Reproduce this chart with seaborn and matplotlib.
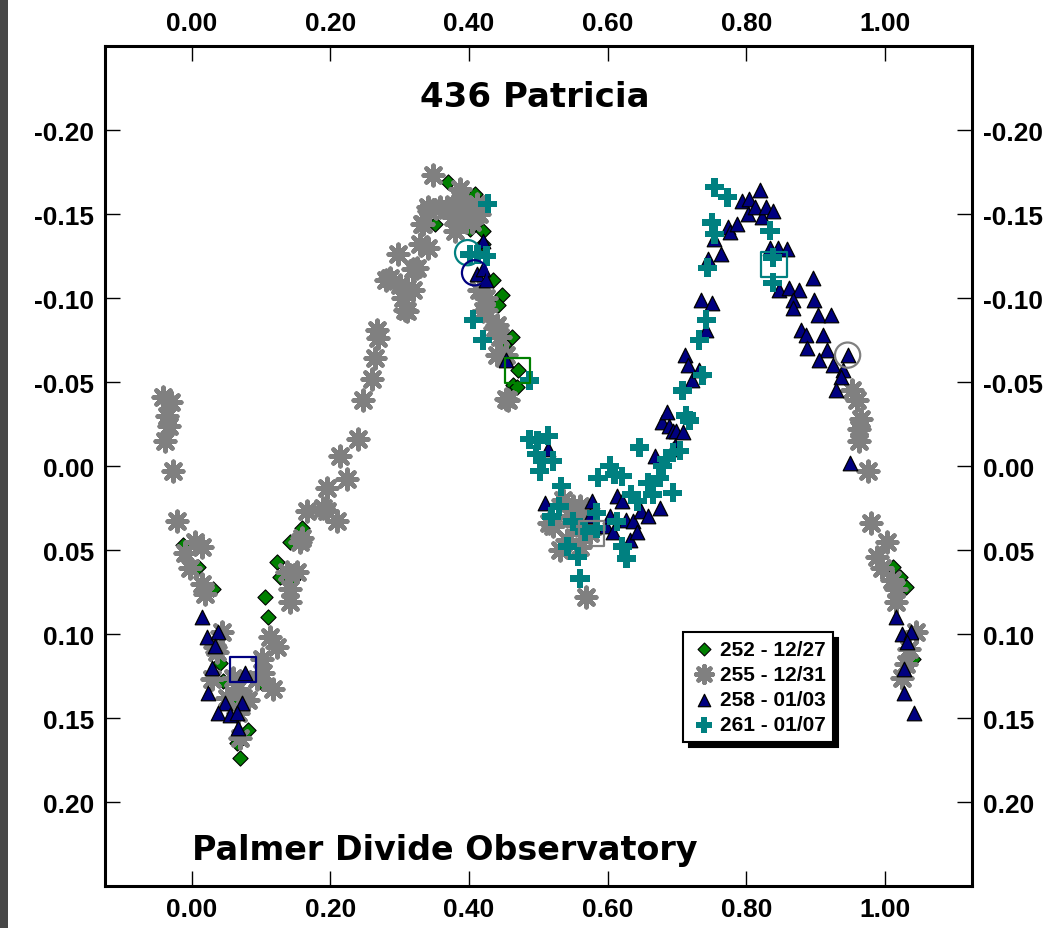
import numpy as np
import pandas as pd
import matplotlib
matplotlib.use("Agg")
import matplotlib.pyplot as plt
import seaborn as sns
from matplotlib.patches import Rectangle

# ---- data (phase, magnitude) ----
s252_x = [-0.012, 0.009, 0.031, 0.041, 0.045, 0.060, 0.065, 0.070, 0.081, 0.101, 0.106, 0.110,
          0.123, 0.127, 0.142, 0.146, 0.159,
          0.351, 0.370, 0.408, 0.401, 0.420, 0.420, 0.435, 0.447, 0.442, 0.462, 0.451, 0.470,
          0.463, 0.469,
          1.011, 1.021, 1.030, 1.040]
s252_y = [0.047, 0.060, 0.073, 0.117, 0.128, 0.140, 0.165, 0.174, 0.157, 0.129, 0.078, 0.090,
          0.057, 0.066, 0.045, 0.067, 0.037,
          -0.144, -0.169, -0.162, -0.141, -0.140, -0.132, -0.111, -0.102, -0.096, -0.077, -0.072, -0.057,
          -0.048, -0.047,
          0.060, 0.066, 0.072, 0.115]

s255_x = [-0.042, -0.030, -0.036, -0.033, -0.038, -0.027, -0.021, -0.010, 0.005, -0.002, 0.015, 0.019,
          0.015, 0.044, 0.034, 0.036, 0.029, 0.060, 0.065, 0.051, 0.074, 0.067, 0.070, 0.081,
          0.094, 0.101, 0.103, 0.113, 0.117, 0.123, 0.137, 0.142, 0.142, 0.152, 0.156, 0.159,
          0.166, 0.189, 0.195, 0.195, 0.209, 0.224, 0.214, 0.240, 0.247, 0.260, 0.264, 0.269,
          0.267, 0.281, 0.286, 0.298, 0.300, 0.305, 0.307, 0.310, 0.310, 0.319, 0.319, 0.325,
          0.329, 0.332, 0.334, 0.341, 0.341, 0.343, 0.348, 0.358, 0.368, 0.377, 0.387, 0.387,
          0.391, 0.396, 0.411, 0.405, 0.415, 0.395, 0.380,
          0.415, 0.425, 0.420, 0.425, 0.437, 0.440, 0.444, 0.440, 0.454, 0.456, 0.454,
          0.516, 0.521, 0.531, 0.535, 0.541, 0.550, 0.560, 0.560, 0.574, 0.569, 0.545, 0.555,
          0.565,
          0.952, 0.960, 0.966, 0.963, 0.963, 0.975, 0.980, 1.003, 0.989, 0.996, 1.016, 1.016,
          1.010, 1.045, 1.035, 1.030, 1.025]
s255_y = [-0.041, -0.038, -0.030, -0.024, -0.015, 0.003, 0.033, 0.052, 0.045, 0.061, 0.070, 0.076,
          0.048, 0.099, 0.108, 0.111, 0.127, 0.126, 0.133, 0.138, 0.138, 0.147, 0.162, 0.139,
          0.127, 0.115, 0.123, 0.102, 0.133, 0.108, 0.063, 0.073, 0.081, 0.063, 0.045, 0.043,
          0.027, 0.025, 0.013, 0.027, 0.033, 0.008, -0.006, -0.016, -0.039, -0.052, -0.064, -0.076,
          -0.081, -0.111, -0.112, -0.126, -0.108, -0.100, -0.093, -0.106, -0.092, -0.105, -0.117, -0.118,
          -0.132, -0.144, -0.144, -0.130, -0.154, -0.152, -0.173, -0.154, -0.154, -0.148, -0.159, -0.165,
          -0.150, -0.150, -0.156, -0.145, -0.150, -0.145, -0.140,
          -0.105, -0.100, -0.092, -0.093, -0.082, -0.084, -0.077, -0.066, -0.066, -0.039, -0.040,
          0.034, 0.036, 0.050, 0.020, 0.044, 0.024, 0.024, 0.048, 0.040, 0.078, 0.030, 0.035,
          0.030,
          -0.045, -0.039, -0.028, -0.022, -0.015, 0.003, 0.034, 0.045, 0.054, 0.061, 0.073, 0.081,
          0.068, 0.099, 0.109, 0.118, 0.126]

s258_x = [0.015, 0.022, 0.038, 0.034, 0.029, 0.024, 0.077, 0.048, 0.038, 0.055, 0.072, 0.065, 0.067,
          0.420, 0.411, 0.420, 0.425, 0.454,
          0.509, 0.514, 0.574, 0.577, 0.598, 0.603, 0.608, 0.613, 0.620, 0.627, 0.632, 0.636,
          0.642, 0.648, 0.658, 0.675, 0.668, 0.679, 0.686, 0.689, 0.694, 0.699, 0.708, 0.697,
          0.694, 0.711, 0.716, 0.721, 0.732, 0.742, 0.735, 0.750, 0.744, 0.764, 0.754, 0.773,
          0.776, 0.786, 0.793, 0.802, 0.804, 0.812, 0.819, 0.823, 0.829, 0.838, 0.834, 0.845,
          0.858, 0.847, 0.862, 0.876, 0.867, 0.867, 0.896, 0.898, 0.903, 0.922, 0.879, 0.886,
          0.910, 0.888, 0.917, 0.905, 0.925, 0.946, 0.939, 0.937, 0.930,
          0.949, 1.016, 1.024, 1.038, 1.032, 1.028, 1.028, 1.042]
s258_y = [0.090, 0.102, 0.099, 0.107, 0.120, 0.135, 0.123, 0.141, 0.147, 0.148, 0.141, 0.147, 0.156,
          -0.134, -0.114, -0.117, -0.111, -0.063,
          0.022, -0.010, 0.030, 0.021, 0.036, 0.030, 0.039, 0.018, 0.021, 0.032, 0.044, 0.033,
          0.039, 0.027, 0.030, 0.025, -0.006, -0.026, -0.032, -0.024, -0.021, -0.021, -0.020, -0.012,
          -0.010, -0.066, -0.060, -0.051, -0.057, -0.081, -0.099, -0.097, -0.123, -0.126, -0.135, -0.142,
          -0.139, -0.144, -0.158, -0.150, -0.159, -0.154, -0.164, -0.148, -0.154, -0.152, -0.130, -0.130,
          -0.129, -0.105, -0.106, -0.105, -0.099, -0.094, -0.112, -0.099, -0.090, -0.090, -0.081, -0.078,
          -0.078, -0.070, -0.069, -0.063, -0.060, -0.066, -0.057, -0.053, -0.045,
          -0.002, 0.090, 0.100, 0.099, 0.105, 0.121, 0.135, 0.147]

s261_x = [0.427, 0.401, 0.425, 0.412, 0.406, 0.420, 0.487,
          0.487, 0.499, 0.514, 0.497, 0.506, 0.521, 0.502, 0.533, 0.530, 0.519, 0.542, 0.557,
          0.560, 0.550, 0.567, 0.584, 0.584, 0.586, 0.603, 0.610, 0.621, 0.613, 0.621, 0.627,
          0.634, 0.643, 0.646, 0.658, 0.665, 0.675, 0.679, 0.685, 0.694, 0.694, 0.704, 0.713,
          0.718, 0.708, 0.737, 0.732, 0.742, 0.744, 0.750, 0.754, 0.754, 0.773, 0.834, 0.838,
          0.838]
s261_y = [-0.156, -0.126, -0.125, -0.126, -0.087, -0.075, -0.051,
          -0.016, -0.015, -0.018, -0.007, -0.003, -0.003, 0.003, 0.012, 0.024, 0.030, 0.048, 0.054,
          0.067, 0.033, 0.039, 0.028, 0.037, 0.007, 0.000, 0.005, 0.006, 0.033, 0.048, 0.055,
          0.017, 0.021, -0.011, 0.010, 0.017, 0.007, 0.000, -0.004, -0.008, 0.016, -0.009, -0.030,
          -0.027, -0.045, -0.054, -0.075, -0.087, -0.118, -0.145, -0.138, -0.166, -0.160, -0.140, -0.124,
          -0.109]

# open reference markers
ref_x = [0.398, 0.408, 0.470, 0.074, 0.840, 0.946, 0.577]
ref_y = [-0.127, -0.115, -0.057, 0.121, -0.120, -0.066, 0.040]
ref_col = ["#008080", "#000080", "#008000", "#000080", "#008080", "#808080", "#808080"]
ref_mark = ["o", "o", "s", "s", "s", "o", "s"]

labels = ["252 - 12/27", "255 - 12/31", "258 - 01/03", "261 - 01/07"]
xticks = [0.0, 0.2, 0.4, 0.6, 0.8, 1.0]
xtick_labels = ["0.00", "0.20", "0.40", "0.60", "0.80", "1.00"]
yticks = [-0.20, -0.15, -0.10, -0.05, 0.0, 0.05, 0.10, 0.15, 0.20]
ytick_labels = ["-0.20", "-0.15", "-0.10", "-0.05", "0.00", "0.05", "0.10", "0.15", "0.20"]

sns.set_style("ticks")
plt.rcParams['font.family'] = ['Liberation Sans', 'DejaVu Sans']
plt.rcParams['axes.unicode_minus'] = False
plt.rcParams['text.color'] = 'black'
plt.rcParams['xtick.color'] = 'black'
plt.rcParams['ytick.color'] = 'black'

fig = plt.figure(figsize=(10.53, 9.29), dpi=100)
fig.patches.append(Rectangle((0, 0), 8 / 1053, 1, transform=fig.transFigure,
                             facecolor="#474747", edgecolor="none"))
ax = fig.add_axes([0.0997, 0.0452, 0.8231, 0.9042])

sns.scatterplot(x=s252_x, y=s252_y, marker="D", s=60, color="#008000", edgecolor="black",
                linewidth=0.8, label=labels[0], ax=ax, zorder=2)
sns.scatterplot(x=s255_x, y=s255_y, marker=(8, 2, 0), s=200, color="#808080",
                linewidth=3.2, label=labels[1], ax=ax, zorder=3)
sns.scatterplot(x=s258_x, y=s258_y, marker="^", s=110, color="#000080", edgecolor="black",
                linewidth=0.9, label=labels[2], ax=ax, zorder=4)
sns.scatterplot(x=s261_x, y=s261_y, marker="P", s=190, color="#008080", edgecolor="none",
                label=labels[3], ax=ax, zorder=5)

for x, y, c, m in zip(ref_x, ref_y, ref_col, ref_mark):
    ax.scatter(x, y, marker=m, s=330, facecolors="none", edgecolors=c, linewidths=1.6, zorder=6)

ax.set_xlim(-0.125, 1.125)
ax.set_ylim(0.25, -0.25)
ax.set_xticks(xticks, xtick_labels, fontweight="bold")
ax.set_yticks(yticks, ytick_labels, fontweight="bold")
ax.tick_params(which="both", direction="in", top=True, right=True, labeltop=True,
               labelright=True, length=11, width=1, labelsize=19, pad=8)
for sp in ax.spines.values():
    sp.set_linewidth(2.2)
    sp.set_color("black")
ax.set_xlabel("")
ax.set_ylabel("")

ax.text(0.496, 0.94, "436 Patricia", transform=ax.transAxes, ha="center", va="center",
        fontsize=24.5, fontweight="heavy", family="DejaVu Sans", color="black")
ax.text(0.100, 0.044, "Palmer Divide Observatory", transform=ax.transAxes, ha="left",
        va="center", fontsize=24, fontweight="heavy", family="DejaVu Sans", color="black")

leg = ax.legend(loc="upper left", bbox_to_anchor=(0.667, 0.302), frameon=True, fancybox=False,
                shadow={"ox": 4, "oy": -4, "color": "black", "alpha": 1},
                prop={"size": 15, "weight": "bold"}, handletextpad=0.1, borderpad=0.35,
                labelspacing=0.3, handlelength=1.3, borderaxespad=0, markerscale=0.85)
leg.get_frame().set_edgecolor("black")
leg.get_frame().set_linewidth(1.5)
for t in leg.get_texts():
    t.set_color("black")

fig.savefig("out.png", dpi=100)
